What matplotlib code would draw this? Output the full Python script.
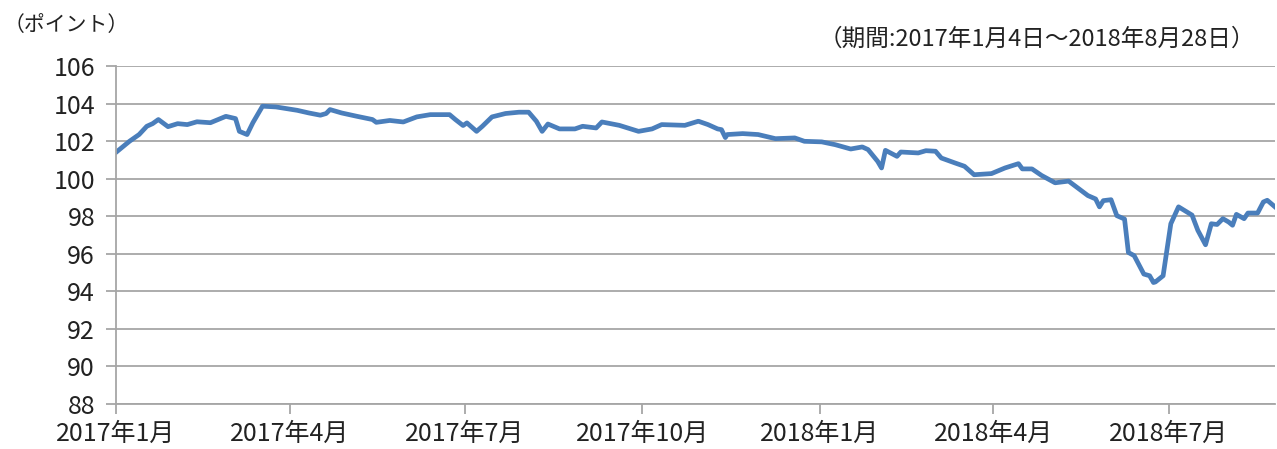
import pandas as pd
import matplotlib.pyplot as plt
import matplotlib.dates as mdates

plt.rcParams['font.family'] = ['Noto Sans CJK JP', 'DejaVu Sans']

dates = [
    "2017-01-04", "2017-01-11", "2017-01-16", "2017-01-20", "2017-01-23", "2017-01-26",
    "2017-01-31", "2017-02-05", "2017-02-10", "2017-02-15", "2017-02-22", "2017-03-02",
    "2017-03-07", "2017-03-09", "2017-03-13", "2017-03-16", "2017-03-21", "2017-03-28",
    "2017-04-08", "2017-04-14", "2017-04-20", "2017-04-23", "2017-04-25", "2017-05-01",
    "2017-05-09", "2017-05-17", "2017-05-19", "2017-05-26", "2017-06-02", "2017-06-09",
    "2017-06-16", "2017-06-26", "2017-06-29", "2017-07-03", "2017-07-05", "2017-07-10",
    "2017-07-13", "2017-07-18", "2017-07-25", "2017-08-01", "2017-08-06", "2017-08-10",
    "2017-08-13", "2017-08-16", "2017-08-22", "2017-08-30", "2017-09-03", "2017-09-10",
    "2017-09-13", "2017-09-22", "2017-10-02", "2017-10-09", "2017-10-14", "2017-10-26",
    "2017-11-02", "2017-11-07", "2017-11-12", "2017-11-14", "2017-11-16", "2017-11-17",
    "2017-11-25", "2017-12-03", "2017-12-12", "2017-12-22", "2017-12-27", "2018-01-05",
    "2018-01-12", "2018-01-20", "2018-01-26", "2018-01-29", "2018-02-03", "2018-02-05",
    "2018-02-07", "2018-02-13", "2018-02-15", "2018-02-24", "2018-02-28", "2018-03-05",
    "2018-03-08", "2018-03-15", "2018-03-20", "2018-03-25", "2018-04-03", "2018-04-10",
    "2018-04-17", "2018-04-19", "2018-04-24", "2018-04-29", "2018-05-06", "2018-05-13",
    "2018-05-16", "2018-05-23", "2018-05-27", "2018-05-29", "2018-05-31", "2018-06-04",
    "2018-06-07", "2018-06-11", "2018-06-13", "2018-06-16", "2018-06-21", "2018-06-24",
    "2018-06-26", "2018-06-27", "2018-07-01", "2018-07-05", "2018-07-09", "2018-07-16",
    "2018-07-19", "2018-07-23", "2018-07-26", "2018-07-29", "2018-08-01", "2018-08-04",
    "2018-08-06", "2018-08-08", "2018-08-12", "2018-08-14", "2018-08-19", "2018-08-22",
    "2018-08-24", "2018-08-28",
]
points = [
    101.40, 101.99, 102.35, 102.79, 102.93, 103.15,
    102.77, 102.93, 102.88, 103.03, 102.98, 103.32,
    103.20, 102.52, 102.35, 102.98, 103.86, 103.82,
    103.64, 103.50, 103.38, 103.47, 103.68, 103.50,
    103.32, 103.15, 103.00, 103.10, 103.02, 103.29,
    103.41, 103.41, 103.15, 102.83, 102.97, 102.52,
    102.79, 103.29, 103.47, 103.54, 103.54, 103.06,
    102.52, 102.91, 102.65, 102.65, 102.79, 102.70,
    103.02, 102.84, 102.52, 102.65, 102.88, 102.84,
    103.06, 102.88, 102.65, 102.61, 102.19, 102.35,
    102.40, 102.35, 102.13, 102.17, 101.99, 101.96,
    101.81, 101.58, 101.69, 101.55, 100.92, 100.57,
    101.51, 101.19, 101.42, 101.37, 101.49, 101.46,
    101.10, 100.84, 100.66, 100.21, 100.27, 100.57,
    100.80, 100.52, 100.52, 100.17, 99.78, 99.87,
    99.64, 99.10, 98.92, 98.50, 98.83, 98.88,
    98.03, 97.85, 96.07, 95.90, 94.92, 94.83,
    94.47, 94.50, 94.83, 97.60, 98.50, 98.06,
    97.25, 96.48, 97.60, 97.56, 97.87, 97.69,
    97.52, 98.10, 97.87, 98.17, 98.17, 98.76,
    98.85, 98.50,
]
yticks = list(range(88, 107, 2))
xticks = ["2017-01-04", "2017-04-04", "2017-07-04", "2017-10-04",
          "2018-01-04", "2018-04-04", "2018-07-04"]

x = pd.to_datetime(dates)
grid_col = "#A6A6A6"

fig = plt.figure(figsize=(12.77, 4.49), dpi=100)
ax = fig.add_axes([0.0908, 0.1002, 0.9076, 0.7528])

ax.plot(x, points, color="#4A7EBB", lw=3.4, solid_joinstyle="round")

ax.set_ylim(88, 106)
ax.set_yticks(yticks)
ax.set_xlim(pd.Timestamp("2017-01-04"), pd.Timestamp("2018-08-28"))
ax.set_xticks(pd.to_datetime(xticks))
ax.xaxis.set_major_formatter(mdates.DateFormatter("%Y年%-m月"))

ax.grid(axis="y", color=grid_col, lw=1.3)
ax.set_axisbelow(True)
for s in ["top", "right"]:
    ax.spines[s].set_visible(False)
for s in ["left", "bottom"]:
    ax.spines[s].set_color(grid_col)
    ax.spines[s].set_linewidth(1.3)
ax.tick_params(axis="both", color=grid_col, width=1.3, length=7, labelsize=18,
               labelcolor="#222222")
ax.tick_params(axis="y", pad=8)
ax.tick_params(axis="x", pad=5)

fig.text(0.003, 0.945, "（ポイント）", fontsize=15, color="#222222", va="center")
fig.text(0.983, 0.912, "（期間:2017年1月4日～2018年8月28日）", fontsize=17,
         color="#222222", ha="right", va="center")

fig.savefig("out.png", dpi=100)
